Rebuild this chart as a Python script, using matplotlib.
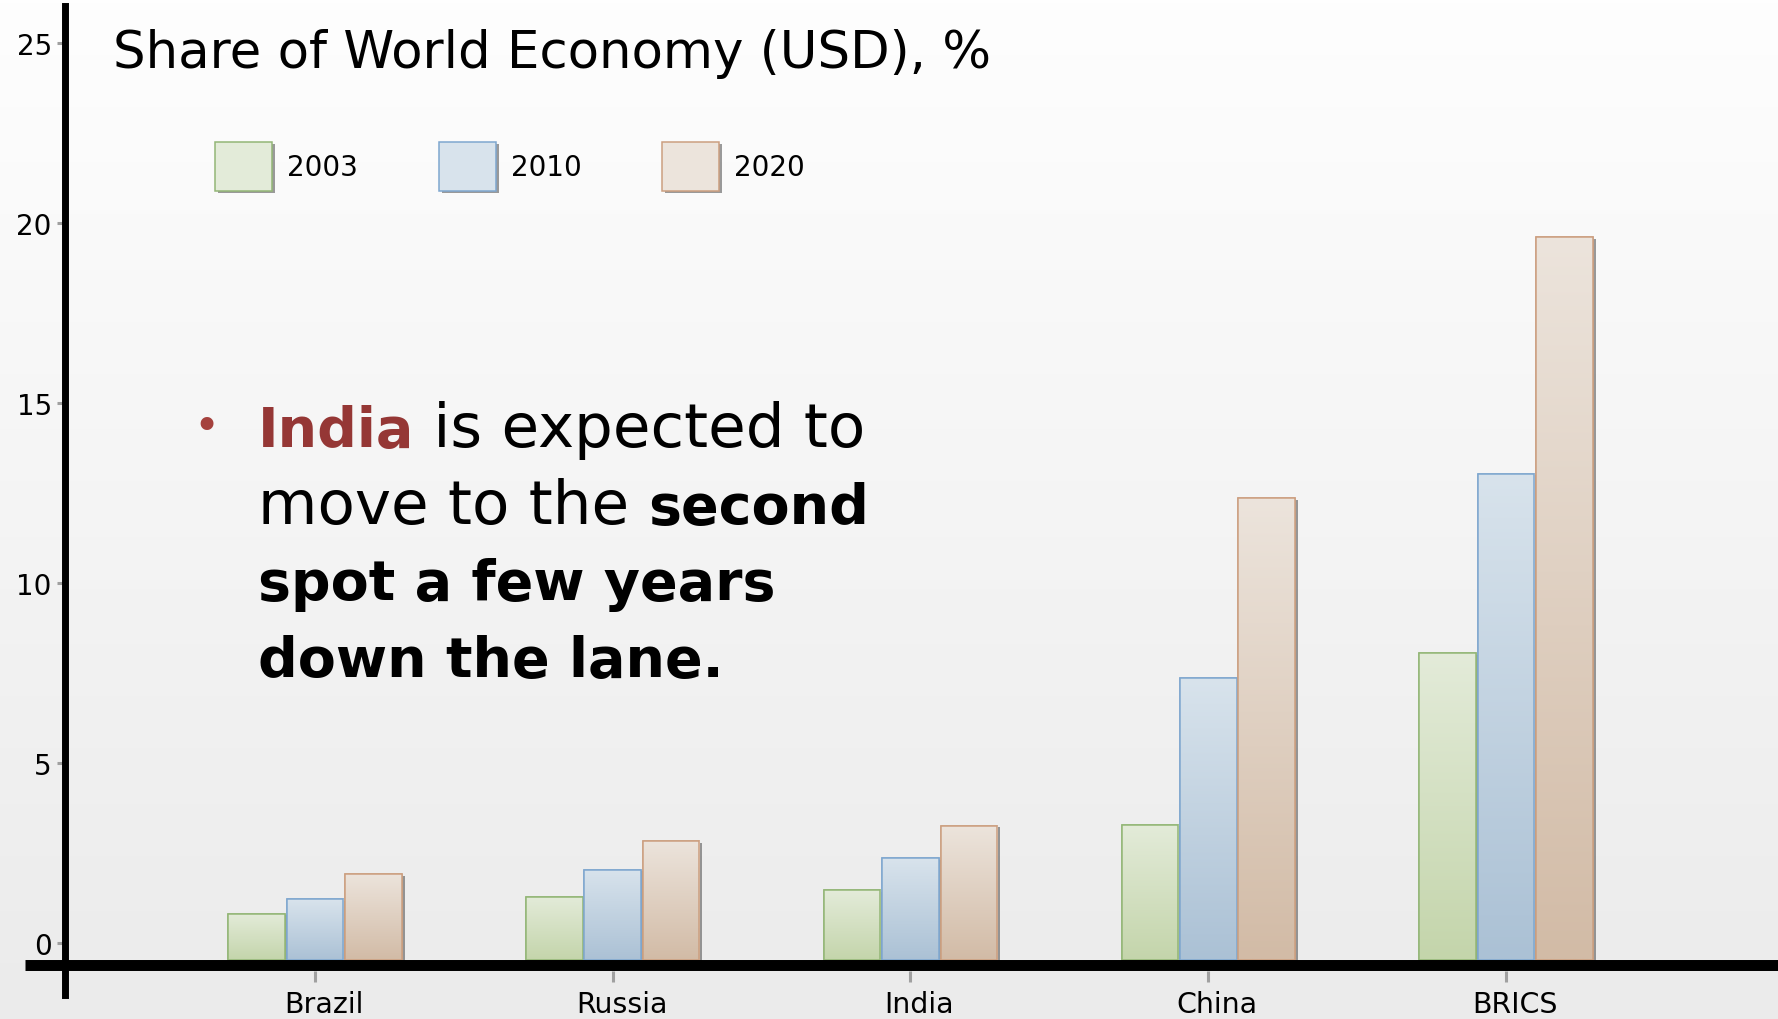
import numpy as np
import matplotlib
matplotlib.use('Agg')
import matplotlib.pyplot as plt
import matplotlib.transforms as mtransforms
import matplotlib.patheffects as pe
from matplotlib.colors import to_rgb

# share of world economy (USD), %
categories = ['Brazil', 'Russia', 'India', 'China', 'BRICS']
years = ['2003', '2010', '2020']
share_2003 = [1.29, 1.76, 1.94, 3.76, 8.52]
share_2010 = [1.69, 2.51, 2.82, 7.83, 13.51]
share_2020 = [2.39, 3.31, 3.73, 12.83, 20.08]
y_ticks = [0, 5, 10, 15, 20, 25]

# (top of gradient, bottom of gradient, outline)
fills = [('#e3ebd9', '#c4d5ab', '#93b676'),
         ('#d8e3ec', '#abc1d5', '#7fa7cf'),
         ('#ece4dc', '#d2bba6', '#cc9f80')]

W, H, DPI = 17.78, 10.20, 100
fig = plt.figure(figsize=(W, H), dpi=DPI)


def vgrad(c_top, c_bot, n=128):
    t = np.linspace(0, 1, n)[:, None, None]
    a, b = np.array(to_rgb(c_top)), np.array(to_rgb(c_bot))
    return a + (b - a) * t


# light grey slide backdrop
bg = fig.add_axes([0, 0, 1, 1], zorder=-10)
bg.axis('off')
bg.imshow(vgrad('#fefefe', '#ebebeb', 256), aspect='auto', extent=(0, 1, 0, 1))

ax = fig.add_axes([65 / 1778, 24 / 1020, 1 - 65 / 1778, 989 / 1020])
ax.patch.set_visible(False)

x = np.arange(len(categories))
pitch, width = 0.196, 0.19
shadow = [pe.SimplePatchShadow(offset=(2.2, -1.2), shadow_rgbFace='#4a4a4a', alpha=0.55),
          pe.Normal()]

for i, (year, vals) in enumerate(zip(years, [share_2003, share_2010, share_2020])):
    top, bot, edge = fills[i]
    pos = x + (i - 1) * pitch
    bars = ax.bar(pos, vals, width, color=top, edgecolor=edge, lw=1.1,
                  label=year, zorder=3, path_effects=shadow)
    for r in bars:
        im = ax.imshow(vgrad(top, bot),
                       extent=(r.get_x(), r.get_x() + r.get_width(), 0, r.get_height()),
                       aspect='auto', interpolation='bilinear', zorder=3.1)
        im.set_clip_path(r)
    ax.bar(pos, vals, width, fill=False, edgecolor=edge, lw=1.1, zorder=3.2)

ax.set_xlim(-0.8396, 4.9135)
ax.set_ylim(-0.972, 26.5)

for s in ['top', 'right']:
    ax.spines[s].set_visible(False)
ax.spines['left'].set_linewidth(5.0)
ax.spines['left'].set_color('black')
ax.spines['left'].set_zorder(6)
ax.spines['bottom'].set_position(('data', -0.3056))
ax.spines['bottom'].set_visible(False)

ax.set_xticks(x, categories)
ax.set_yticks(y_ticks)
ax.tick_params(axis='x', length=8, width=2.2, color='#a0a0a0', pad=5.5, labelsize=20.5)
ax.tick_params(axis='y', length=5.5, width=2.2, color='#a0a0a0', pad=4, labelsize=20)

# value labels sit a little above the bar baseline
off = mtransforms.ScaledTranslation(0, 16.7 / DPI, fig.dpi_scale_trans)
for t in ax.yaxis.get_major_ticks():
    t.label1.set_transform(t.label1.get_transform() + off)
    t.tick1line.set_transform(t.tick1line.get_transform() + off)
# category names nudged right of their ticks
xoff = mtransforms.ScaledTranslation(9 / DPI, 0, fig.dpi_scale_trans)
for t in ax.xaxis.get_major_ticks():
    t.label1.set_transform(t.label1.get_transform() + xoff)

# heavy base line running across the slide
ax.plot([-0.974, 4.92], [-0.139, -0.139], color='black', lw=7.9,
        solid_capstyle='butt', clip_on=False, zorder=5)

ax.legend(loc='upper left', bbox_to_anchor=(215 / 1778, 1 - 143 / 1020),
          bbox_transform=fig.transFigure, ncol=3, frameon=False, fontsize=20,
          handlelength=2.05, handleheight=2.33, handletextpad=0.55,
          columnspacing=2.9, borderpad=0, borderaxespad=0)

fig.text(113 / 1778, 1 - 68 / 1020, 'Share of World Economy (USD), %',
         fontsize=37, va='baseline')

# bullet note, pieces laid out left to right on a shared baseline
red = '#953735'
note = [[('India', 'bold', red), (' is expected to', 'normal', 'black')],
        [('move to the ', 'normal', 'black'), ('second', 'bold', 'black')],
        [('spot a few years', 'bold', 'black')],
        [('down the lane.', 'bold', 'black')]]
baselines = [447, 524, 600, 677]
fs = {'normal': 44, 'bold': 40}
fig.text(206 / 1778, 1 - 427 / 1020, '\u2022', ha='center', va='center',
         color='#a5413d', fontsize=32)
renderer = fig.canvas.get_renderer()
for line, yb in zip(note, baselines):
    xpos = 258 / 1778
    for s, w, c in line:
        t = fig.text(xpos, 1 - yb / 1020, s, fontsize=fs[w], fontweight=w,
                     color=c, va='baseline')
        xpos = t.get_window_extent(renderer).x1 / fig.bbox.width

fig.savefig('out.png', dpi=DPI)
